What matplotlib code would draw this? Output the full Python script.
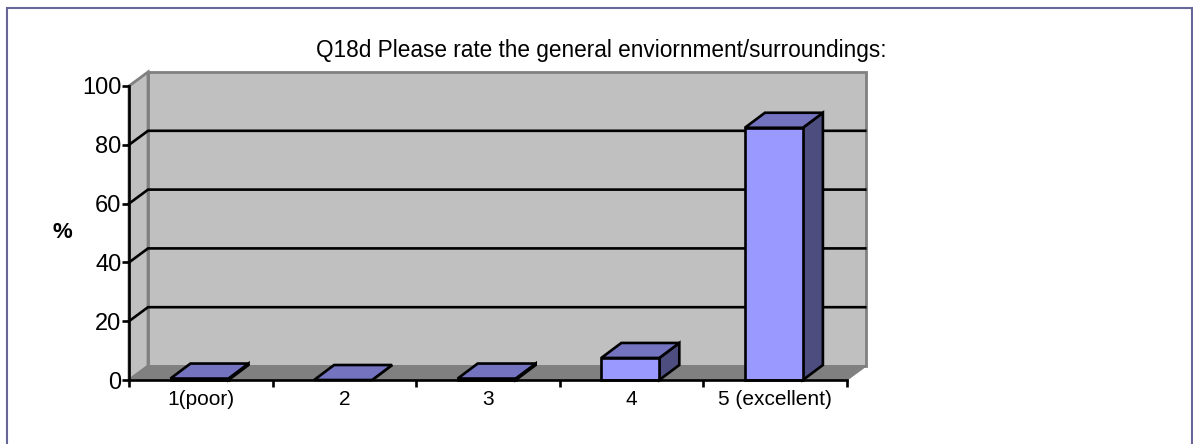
import matplotlib
matplotlib.use("Agg")
import matplotlib.pyplot as plt
from matplotlib.lines import Line2D
from matplotlib.patches import Polygon, Rectangle

categories = ["1(poor)", "2", "3", "4", "5 (excellent)"]
values = [0.5, 0, 0.5, 7.5, 85.8]
y_ticks = [0, 20, 40, 60, 80, 100]
title = "Q18d Please rate the general enviornment/surroundings:"

W, H = 1193, 444
plt.rcParams["font.family"] = ["Liberation Sans", "DejaVu Sans"]

### pixel layout of the plot area
left, right, top, bottom = 129, 847, 86, 380
px_x = (right - left) / len(categories)
px_y = (bottom - top) / 100

# depth of the fake 3d box, in data units
wall_dx, wall_dy = 19 / px_x, 14 / px_y
bar_dx, bar_dy = 20 / px_x, 15 / px_y
bar_w = 58 / px_x
bar_shift = 1.3 / px_x

fig = plt.figure(figsize=(W / 100, H / 100), dpi=100, facecolor="white")

# outer chart border, it has no bottom edge in the picture
fig.add_artist(Line2D([7.5 / W, 7.5 / W, 1191.5 / W, 1191.5 / W], [0, 1 - 8 / H, 1 - 8 / H, 0],
                      transform=fig.transFigure, color="#666699", lw=1.5, solid_joinstyle="miter"))

ax = fig.add_axes([left / W, 1 - bottom / H, (right - left) / W, (bottom - top) / H])
ax.set_xlim(0, len(categories))
ax.set_ylim(0, 100)
ax.patch.set_visible(False)
for name in ["top", "right"]:
    ax.spines[name].set_visible(False)
for name in ["left", "bottom"]:
    ax.spines[name].set_linewidth(1.9)
    ax.spines[name].set_zorder(6)


def poly(points, zorder=2, **kw):
    ax.add_patch(Polygon(points, closed=True, clip_on=False, zorder=zorder, **kw))


n = len(categories)
wall = "#C0C0C0"
wall_edge = "#808080"

# back wall, side wall, floor
poly([(wall_dx, wall_dy), (n + wall_dx, wall_dy), (n + wall_dx, 100 + wall_dy), (wall_dx, 100 + wall_dy)],
     fc=wall, ec=wall_edge, lw=2, zorder=1)
poly([(0, 0), (wall_dx, wall_dy), (wall_dx, 100 + wall_dy), (0, 100)], fc=wall, ec=wall_edge, lw=2, zorder=1)
poly([(0, 0), (n, 0), (n + wall_dx, wall_dy), (wall_dx, wall_dy)], fc="#808080", ec="#808080", lw=1, zorder=1)

# gridlines run along the side wall and the back wall
for t in y_ticks[1:-1]:
    ax.plot([0, wall_dx, n + wall_dx - 0.005], [t, t + wall_dy, t + wall_dy], color="black", lw=1.9,
            clip_on=False, zorder=1.5, solid_joinstyle="miter")

# bars
for i, v in enumerate(values):
    x0 = i + 0.5 - bar_w / 2 - bar_shift
    x1 = x0 + bar_w
    edge = dict(ec="black", lw=1.9, joinstyle="miter")
    poly([(x1, 0), (x1 + bar_dx, bar_dy), (x1 + bar_dx, v + bar_dy), (x1, v)], fc="#4D4D80", zorder=3, **edge)
    poly([(x0, v), (x1, v), (x1 + bar_dx, v + bar_dy), (x0 + bar_dx, v + bar_dy)], fc="#7373BF", zorder=3, **edge)
    if v > 0:
        ax.add_patch(Rectangle((x0, 0), bar_w, v, fc="#9999FF", clip_on=False, zorder=4, **edge))

ax.set_yticks(y_ticks)
ax.set_xticks(range(n + 1))
ax.set_xticklabels([])
ax.set_xticks([i + 0.5 for i in range(n)], categories, minor=True)
ax.tick_params(axis="y", labelsize=17, length=5, width=1.9, pad=0.5, direction="out")
ax.tick_params(axis="x", which="major", length=5, width=1.9)
ax.tick_params(axis="x", which="minor", length=0, labelsize=15, pad=7)

fig.text(62 / W, 1 - 232 / H, "%", fontsize=16, fontweight="bold", ha="center", va="center")
fig.text(601 / W, 1 - 51 / H, title, fontsize=16.3, ha="center", va="center")

fig.savefig("out.png", dpi=100)
